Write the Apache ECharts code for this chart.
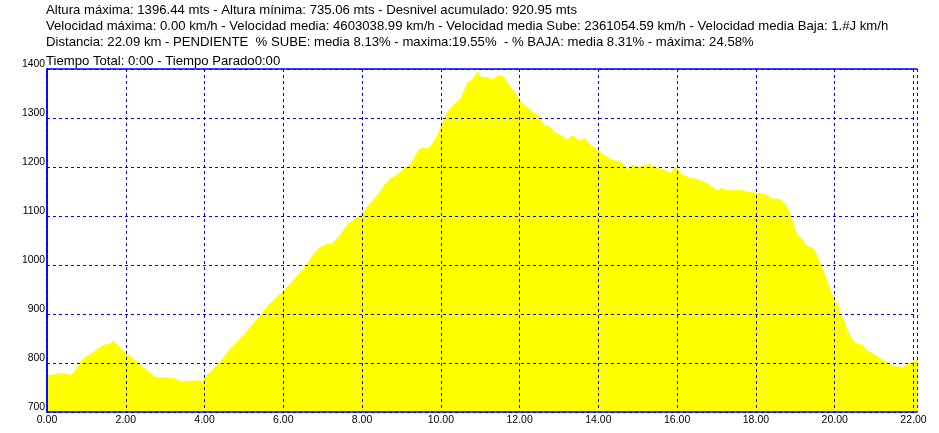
<!DOCTYPE html>
<html><head><meta charset="utf-8">
<script src="https://cdn.jsdelivr.net/npm/echarts@6/dist/echarts.min.js"></script>
<style>html,body{margin:0;padding:0;background:#fff}#c{width:939px;height:433px}</style>
</head><body><div id="c"></div>
<script>
const headerLines = [
  "Altura máxima: 1396.44 mts - Altura mínima: 735.06 mts - Desnivel acumulado: 920.95 mts",
  "Velocidad máxima: 0.00 km/h - Velocidad media: 4603038.99 km/h - Velocidad media Sube: 2361054.59 km/h - Velocidad media Baja: 1.#J km/h",
  "Distancia: 22.09 km - PENDIENTE  % SUBE: media 8.13% - maxima:19.55%  - % BAJA: media 8.31% - máxima: 24.58%",
  "Tiempo Total: 0:00 - Tiempo Parado0:00"
];
const xTicks = [0,2,4,6,8,10,12,14,16,18,20,22];
const yTicks = [700,800,900,1000,1100,1200,1300,1400];
const distKm = [
0.00,0.08,0.25,0.42,0.51,0.59,0.68,0.76,0.93,1.19,1.44,1.61,1.69,1.82,1.97,2.12,2.29,2.54,2.75,2.92,
3.05,3.22,3.43,3.64,3.81,3.94,3.98,4.15,4.40,4.66,4.91,5.17,5.42,5.59,5.84,5.99,6.18,6.44,6.61,6.78,
6.95,7.12,7.24,7.41,7.62,7.79,8.00,8.13,8.39,8.56,8.72,8.89,9.06,9.23,9.32,9.44,9.53,9.66,9.74,9.87,
10.00,10.08,10.16,10.33,10.50,10.59,10.67,10.80,10.88,10.94,11.01,11.18,11.31,11.48,11.60,11.77,11.90,11.99,
12.11,12.28,12.41,12.52,12.62,12.75,12.88,13.05,13.21,13.34,13.51,13.64,13.81,13.99,14.15,14.32,14.49,14.61,
14.74,14.87,14.99,15.16,15.29,15.42,15.67,15.84,15.95,16.09,16.26,16.43,16.60,16.77,16.90,17.03,17.11,17.28,
17.45,17.62,17.79,18.00,18.17,18.30,18.42,18.59,18.68,18.76,18.85,18.93,19.02,19.10,19.19,19.27,19.36,19.44,
19.53,19.61,19.69,19.78,19.86,19.95,20.01,20.08,20.16,20.25,20.33,20.41,20.54,20.71,20.80,20.97,21.09,21.18,
21.30,21.43,21.60,21.73,21.85,21.98,22.09
];
const altM = [
777,775,779,779,778,776,780,792,810,823,837,840,847,835,823,814,801,786,771,770,
771,769,763,764,765,762,771,782,803,830,850,874,899,916,935,946,963,986,1003,1024,
1037,1044,1044,1058,1082,1093,1104,1119,1143,1163,1177,1184,1197,1206,1220,1235,1240,1238,1243,1259,
1282,1299,1313,1327,1340,1357,1372,1379,1388,1396,1384,1383,1379,1388,1384,1364,1350,1337,
1328,1316,1309,1300,1286,1284,1272,1265,1256,1265,1254,1259,1245,1235,1225,1216,1212,1209,
1195,1205,1200,1202,1207,1200,1195,1188,1201,1188,1180,1177,1173,1167,1159,1152,1157,1153,
1152,1154,1149,1148,1146,1142,1135,1135,1131,1122,1109,1092,1068,1058,1051,1041,1037,1035,
1024,1010,993,976,956,939,925,922,901,884,867,854,840,837,827,820,813,808,
803,796,793,791,799,803,808
];

const chart = echarts.init(document.getElementById('c'), null, {renderer:'canvas'});
const font = 'Arial, "Liberation Sans", sans-serif';
const headerY = [10, 26, 42.5, 61];
const blue = '#0000ff';
chart.setOption({
  animation: false,
  backgroundColor: '#ffffff',
  graphic: headerLines.map((t, i) => ({
    type: 'text', x: 46, y: headerY[i],
    style: { text: t, font: '13.15px ' + font, fill: '#000', verticalAlign: 'middle', align: 'left' }
  })),
  grid: { left: 47, right: 22, top: 69, bottom: 21, show: false },
  xAxis: [{
    type: 'value', min: 0, max: distKm[distKm.length - 1], interval: 2, z: 5,
    axisLine: { show: true, lineStyle: { color: blue, width: 1.5 } },
    axisTick: { show: false },
    splitLine: { show: true, lineStyle: { color: blue, type: [3, 3], width: 1 } },
    axisLabel: {
      color: '#000', fontSize: 10.5, fontFamily: font, margin: 3,
      formatter: v => xTicks.includes(Math.round(v * 100) / 100) ? v.toFixed(2) : ''
    }
  }, {
    type: 'value', position: 'top', min: 0, max: distKm[distKm.length - 1], z: 5,
    axisLine: { show: true, lineStyle: { color: blue, width: 1.5 } },
    axisTick: { show: false }, axisLabel: { show: false }, splitLine: { show: false }
  }],
  yAxis: [{
    type: 'value', min: yTicks[0], max: yTicks[yTicks.length - 1], interval: 100, z: 5,
    axisLine: { show: true, lineStyle: { color: blue, width: 1.5 } },
    axisTick: { show: false },
    splitLine: { show: true, lineStyle: { color: blue, type: [3, 3], width: 1 } },
    axisLabel: { color: '#000', fontSize: 10.4, fontFamily: font, margin: 2, verticalAlign: 'bottom', lineHeight: 9,
      formatter: v => String(v) }
  }, {
    type: 'value', position: 'right', min: yTicks[0], max: yTicks[yTicks.length - 1], z: 5,
    axisLine: { show: true, lineStyle: { color: blue, width: 1.5 } },
    axisTick: { show: false }, axisLabel: { show: false }, splitLine: { show: false }
  }],
  series: [{
    type: 'line',
    data: distKm.map((d, i) => [d, altM[i]]),
    showSymbol: false, symbol: 'none',
    lineStyle: { width: 0 },
    areaStyle: { color: '#ffff00', opacity: 1 },
    z: 2
  }]
});
</script></body></html>
